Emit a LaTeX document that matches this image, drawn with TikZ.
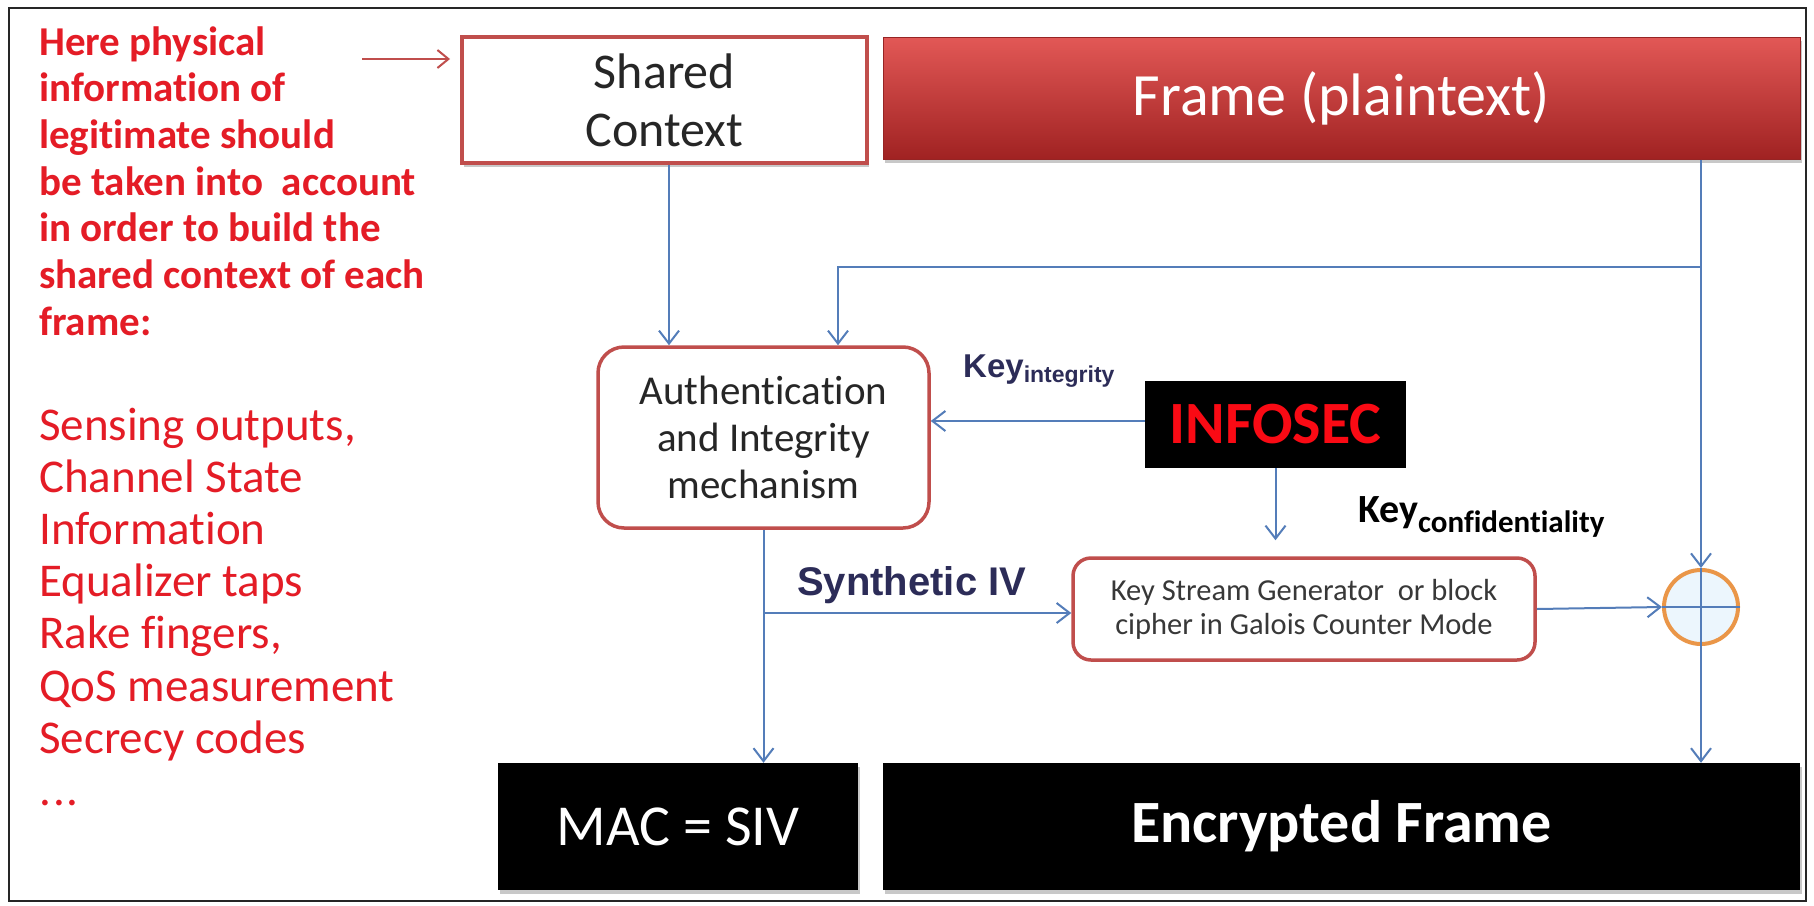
\documentclass[tikz,border=0pt]{standalone}
\usepackage{fontspec}
\setmainfont{Carlito}[Ligatures=NoCommon]
\newfontfamily\arialfont{Liberation Sans}
\usetikzlibrary{arrows.meta,calc,shadows}

\definecolor{linkblue}{RGB}{84,125,185}
\definecolor{noteRed}{RGB}{228,28,38}
\definecolor{boxRed}{RGB}{192,78,76}
\definecolor{frameTop}{RGB}{226,88,86}
\definecolor{frameMid}{RGB}{204,52,50}
\definecolor{frameBot}{RGB}{160,34,34}
\definecolor{frameEdge}{RGB}{150,36,36}
\definecolor{navyText}{RGB}{44,44,88}
\definecolor{xorOrange}{RGB}{234,150,72}
\definecolor{xorFill}{RGB}{236,246,253}
\definecolor{bodyText}{RGB}{38,38,38}
\definecolor{infosecRed}{RGB}{250,10,20}

\tikzset{
  link/.style={draw=linkblue, line width=2pt},
  linkarrow/.style={link, -{Straight Barb[length=13pt,width=20pt,line width=2pt]}},
  softshadow/.style={drop shadow={shadow xshift=1.5pt, shadow yshift=-3.5pt, opacity=0.3, fill=black!70}},
  boldnote/.style={anchor=base west, inner sep=0pt, text=noteRed,
    font=\fontsize{41}{47}\selectfont\bfseries},
  plainnote/.style={anchor=base west, inner sep=0pt, text=noteRed,
    font=\fontsize{47}{52}\selectfont},
  ctxbox/.style={rectangle, draw=boxRed, line width=4.5pt, fill=white, text=bodyText,
    align=center, inner sep=0pt, softshadow, font=\fontsize{50}{58}\selectfont},
  framebox/.style={rectangle, draw=frameEdge, line width=1pt, top color=frameTop,
    middle color=frameMid, bottom color=frameBot, text=white, inner sep=0pt, softshadow,
    font=\fontsize{60}{70}\selectfont},
  roundbox/.style={rectangle, rounded corners=26pt, draw=boxRed, line width=3.5pt,
    fill=white, text=bodyText, align=center, inner sep=0pt},
  blackbox/.style={rectangle, fill=black, text=white, inner sep=0pt, softshadow},
  keylabel/.style={anchor=base west, inner sep=0pt},
}

\begin{document}
\begin{tikzpicture}[x=1pt, y=-1pt]
  \useasboundingbox (0,0) rectangle (1814,905);
  \fill[white] (0,0) rectangle (1814,905);
  % outer frame
  \draw[line width=2.5pt, black!85] (9,8) rectangle (1806,901);

  % explanatory notes on the left
  \foreach \txt [count=\i from 0] in {{Here physical},{information of},{legitimate should},
      {be taken into\ \ account},{in order to build the},{shared context of each},{frame:}}
    \node[boldnote] (head\i) at (39, 55+46.67*\i) {\txt};
  \foreach \txt [count=\i from 0] in {{Sensing outputs,},{Channel State},{Information},
      {Equalizer taps},{Rake fingers,},{QoS measurement},{Secrecy codes}}
    \node[plainnote] (item\i) at (39, 440+52.2*\i) {\txt};
  \node[plainnote] (itemmore) at (39, 805) {.\kern2pt.\kern2pt.};

  % blocks
  \node[ctxbox, minimum width=405pt, minimum height=126pt] (sc) at (664.5,100) {Shared\\Context};
  \node[framebox, minimum width=917pt, minimum height=122pt] (frame) at (1341.5,98) {Frame (plaintext)};
  \node[roundbox, minimum width=331pt, minimum height=181pt,
        font=\fontsize{41}{47}\selectfont] (auth) at (763.5,437.5)
        {Authentication\\and Integrity\\mechanism};
  \node[rectangle, fill=black, text=infosecRed, inner sep=0pt, minimum width=261pt,
        minimum height=87pt, font=\fontsize{60}{66}\selectfont\bfseries] (info) at (1275.5,424.5) {INFOSEC};
  \node[roundbox, rounded corners=18pt, minimum width=462pt, minimum height=102pt,
        text=black!78, font=\fontsize{30.5}{34}\selectfont] (ksg) at (1304,609)
        {Key Stream Generator\ \ or block\\cipher in Galois Counter Mode};
  \node[circle, draw=xorOrange, line width=4pt, fill=xorFill, minimum size=74pt,
        inner sep=0pt] (xor) at (1701,607) {};
  \node[blackbox, minimum width=360pt, minimum height=127pt,
        font=\fontsize{58}{66}\selectfont] (mac) at (678,826.5) {MAC = SIV};
  \node[blackbox, minimum width=917pt, minimum height=127pt,
        font=\fontsize{60}{70}\selectfont\bfseries] (enc) at (1341.5,826.5) {Encrypted Frame};

  % labels on the key and IV paths
  \node[keylabel, text=navyText, font=\arialfont\bfseries\fontsize{33}{38}\selectfont] (kint) at (963,377)
    {Key\raisebox{-5pt}{\fontsize{23}{26}\selectfont integrity}};
  \node[keylabel, text=black, font=\bfseries\fontsize{40}{46}\selectfont] (kconf) at (1358,522)
    {Key\raisebox{-10pt}{\fontsize{31}{34}\selectfont confidentiality}};
  \node[keylabel, text=navyText, font=\arialfont\bfseries\fontsize{40}{46}\selectfont] (siv) at (797,595)
    {Synthetic IV};

  % red pointer to the shared context
  \coordinate (ptrA) at (362,59);
  \coordinate (ptrB) at (450,59);
  \draw[draw=boxRed, line width=2pt, -{Straight Barb[length=11pt,width=18pt,line width=2pt]}] (ptrA) -- (ptrB);

  % connectors
  \coordinate (scout) at ($(sc.south)+(4.5,0)$);
  \draw[linkarrow] (scout) -- (scout |- auth.north);

  \coordinate (ftap) at (xor |- frame.south);
  \coordinate (tap) at (1701,267);
  \coordinate (bend) at (838,267);
  \draw[linkarrow] (ftap) -- (xor.north);
  \draw[linkarrow] (tap) -- (bend) -- (bend |- auth.north);
  \draw[linkarrow] (xor.south) -- (xor |- enc.north);
  \draw[link] (xor.north) -- (xor.south);
  \draw[link] (xor.west) -- (xor.east);

  \coordinate (kiy) at (0,421);
  \draw[linkarrow] (info.west |- kiy) -- (auth.east |- kiy);
  \coordinate (kc) at ($(info.south |- ksg.north)+(0,-16)$);
  \draw[linkarrow] (info.south) -- (kc);

  \coordinate (ivy) at (0,613);
  \coordinate (ivtap) at (auth.south |- ivy);
  \draw[linkarrow] (auth.south) -- (auth.south |- mac.north);
  \draw[linkarrow] (ivtap) -- (ksg.west |- ivtap);
  \draw[linkarrow] (ksg.east) -- (xor.west);
\end{tikzpicture}
\end{document}
